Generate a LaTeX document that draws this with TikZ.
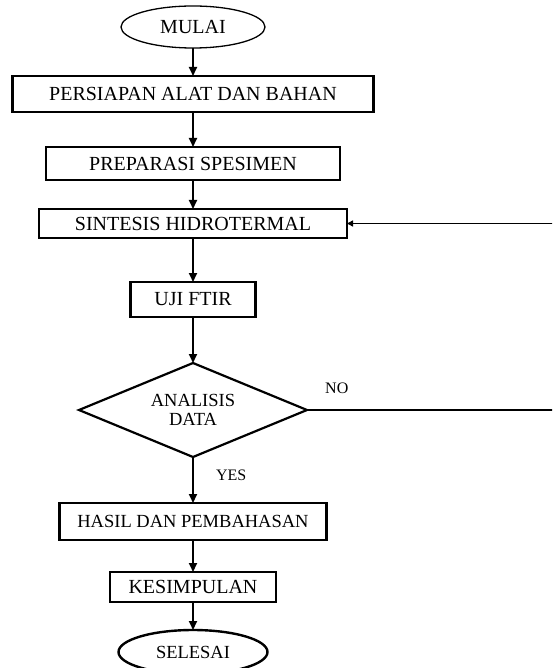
\documentclass[tikz,border=0pt]{standalone}
\usepackage{fontspec}
\setmainfont{Liberation Serif}
\usetikzlibrary{arrows.meta,positioning,shapes.geometric}

\tikzset{
  stepbox/.style={draw, line width=2.6pt, inner sep=0pt, outer sep=0pt, font=\fontsize{20}{22}\selectfont},
  terminal/.style={draw, ellipse, inner sep=0pt, outer sep=0pt, font=\fontsize{20}{22}\selectfont},
  decision/.style={draw, diamond, aspect=2.43, line width=2.2pt, inner sep=0pt, outer sep=0pt,
    minimum width=228pt, minimum height=94pt, align=center, font=\fontsize{18.5}{19}\selectfont},
  small/.style={font=\fontsize{18.5}{20}\selectfont},
  flow/.style={-{Triangle[length=9pt,width=8pt]}, line width=2pt},
  lbl/.style={inner sep=0pt, font=\fontsize{16}{18}\selectfont}
}

\begin{document}
\begin{tikzpicture}[x=1pt, y=-1pt]
  \useasboundingbox (0,0) rectangle (552,668);
  \clip (0,0) rectangle (552,668);

  \node[terminal, line width=1.3pt, minimum width=144pt, minimum height=42pt] (mulai) at (193,27) {MULAI};
  \node[stepbox, minimum width=361pt, minimum height=36pt, below=28pt of mulai] (persiapan) {PERSIAPAN ALAT DAN BAHAN};
  \node[stepbox, minimum width=294pt, minimum height=33pt, below=35pt of persiapan] (preparasi) {PREPARASI SPESIMEN};
  \node[stepbox, minimum width=308pt, minimum height=29pt, below=29pt of preparasi] (sintesis) {SINTESIS HIDROTERMAL};
  \node[stepbox, minimum width=125pt, minimum height=35pt, below=44pt of sintesis] (uji) {UJI FTIR};
  \node[decision, below=46pt of uji] (analisis) {ANALISIS\\DATA};
  \node[stepbox, small, minimum width=267pt, minimum height=37pt, below=46pt of analisis] (hasil) {HASIL DAN PEMBAHASAN};
  \node[stepbox, minimum width=166pt, minimum height=30pt, below=32pt of hasil] (kesimpulan) {KESIMPULAN};
  \node[terminal, small, line width=2.4pt, minimum width=149pt, minimum height=44pt, below=28pt of kesimpulan] (selesai) {SELESAI};

  \draw[flow] (mulai) -- (persiapan);
  \draw[flow] (persiapan) -- (preparasi);
  \draw[flow] (preparasi) -- (sintesis);
  \draw[flow] (sintesis) -- (uji);
  \draw[flow] (uji) -- (analisis);
  \draw[flow] (analisis) -- node[lbl, pos=0.4, right=22pt] (yes) {YES} (hasil);
  \draw[flow] (hasil) -- (kesimpulan);
  \draw[flow] (kesimpulan) -- (selesai);

  % loop back when the data is not good enough
  \coordinate (back) at (570,0);
  \node[lbl, above right=16pt and 18pt of analisis.east] (no) {NO};
  \draw[line width=1.8pt, -{Triangle[length=6pt,width=6pt]}] (analisis.east) -| (back |- sintesis.east) -- (sintesis.east);
\end{tikzpicture}
\end{document}
